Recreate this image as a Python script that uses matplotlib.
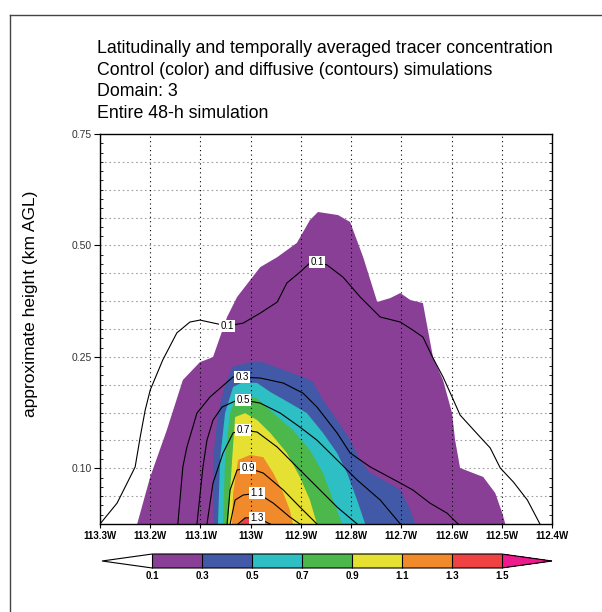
import matplotlib
matplotlib.use("Agg")
import matplotlib.pyplot as plt
import numpy as np
from matplotlib.colors import ListedColormap, BoundaryNorm
from matplotlib.cm import ScalarMappable
from matplotlib.lines import Line2D
from matplotlib.ticker import MultipleLocator

plt.rcParams['font.family'] = ['Liberation Sans', 'DejaVu Sans']

# x in degrees west, y in model-level index (0 = surface)
lon_ticks = [113.3, 113.2, 113.1, 113.0, 112.9, 112.8, 112.7, 112.6, 112.5, 112.4]
height_ticks = [2, 6, 10, 14]
height_labels = ['0.10', '0.25', '0.50', '0.75']

bounds = [0.1, 0.3, 0.5, 0.7, 0.9, 1.1, 1.3, 1.5]
colors = ['#8a3f97', '#4159a6', '#2dbfc4', '#4cb74a', '#e6e032', '#f08a2b', '#ef4242']
over_color = '#ec1a8c'

# control run (color) -- outline of each shaded band
ctl_01_lon = [113.226, 113.200, 113.167, 113.135, 113.101, 113.075, 113.047, 113.027, 112.981, 112.947,
              112.908, 112.882, 112.866, 112.826, 112.802, 112.776, 112.748, 112.722, 112.702, 112.682,
              112.657, 112.637, 112.617, 112.599, 112.593, 112.583, 112.563, 112.537, 112.513, 112.499, 112.493]
ctl_01_lev = [0, 1.69, 3.37, 5.17, 5.81, 5.99, 7.43, 8.15, 9.22, 9.58,
              10.09, 10.91, 11.20, 11.09, 10.84, 9.58, 7.97, 8.11, 8.29, 8.04,
              7.93, 5.99, 5.17, 3.98, 3.02, 2.01, 1.87, 1.69, 1.11, 0.39, 0]
ctl_03_lon = [113.075, 113.075, 113.065, 113.051, 113.037, 113.001, 112.975, 112.935, 112.896, 112.876,
              112.856, 112.828, 112.802, 112.782, 112.762, 112.736, 112.702, 112.682, 112.672]
ctl_03_lev = [0, 2.30, 3.98, 4.99, 5.64, 5.81, 5.81, 5.53, 5.28, 5.10,
              4.45, 3.73, 3.02, 2.30, 1.83, 1.58, 1.22, 0.50, 0]
ctl_05_lon = [113.065, 113.061, 113.051, 113.035, 113.015, 112.987, 112.961, 112.922, 112.888, 112.856,
              112.828, 112.808, 112.788, 112.772]
ctl_05_lev = [0, 2.30, 3.98, 4.92, 5.10, 5.06, 4.74, 4.34, 3.98, 3.27, 2.55, 1.83, 0.86, 0]
ctl_07_lon = [113.055, 113.051, 113.041, 113.031, 113.011, 112.987, 112.955, 112.916, 112.882, 112.856,
              112.836, 112.818]
ctl_07_lev = [0, 2.30, 3.98, 4.45, 4.63, 4.51, 3.98, 3.37, 2.65, 1.83, 0.86, 0]
ctl_09_lon = [113.045, 113.037, 113.031, 113.011, 112.987, 112.961, 112.928, 112.902, 112.882, 112.868]
ctl_09_lev = [0, 2.30, 3.84, 3.98, 3.73, 3.27, 2.55, 1.69, 0.86, 0]
ctl_11_lon = [113.037, 113.035, 113.025, 113.001, 112.975, 112.955, 112.935, 112.922, 112.916]
ctl_11_lev = [0, 1.11, 2.30, 2.48, 2.40, 1.83, 1.11, 0.50, 0]
ctl_13_lon = [113.021, 113.011, 113.001, 112.993]
ctl_13_lev = [0, 0.22, 0.18, 0]

# diffusive run (contours)
dif_01_lon = [113.300, 113.266, 113.236, 113.230, 113.220, 113.210, 113.200, 113.175, 113.147, 113.121,
              113.101, 113.047, 113.015, 112.981, 112.947, 112.928, 112.902, 112.882, 112.868, 112.848,
              112.816, 112.782, 112.742, 112.702, 112.677, 112.657, 112.637, 112.617, 112.599, 112.583,
              112.543, 112.523, 112.503, 112.477, 112.449, 112.424]
dif_01_lev = [0, 0.75, 1.83, 2.05, 3.12, 4.09, 4.81, 5.89, 6.86, 7.25,
              7.32, 7.11, 7.21, 7.57, 7.97, 8.65, 9.04, 9.37, 9.40, 9.30,
              8.86, 8.15, 7.43, 7.25, 6.96, 6.71, 5.96, 5.28, 4.56, 3.91,
              3.12, 2.73, 2.01, 1.51, 0.86, 0]
dif_03_lon = [113.145, 113.135, 113.127, 113.107, 113.081, 113.035, 112.981, 112.935, 112.896, 112.868,
              112.828, 112.802, 112.762, 112.702, 112.677, 112.643, 112.609, 112.587]
dif_03_lev = [0, 2.05, 2.76, 3.98, 4.56, 5.28, 5.24, 5.06, 4.70, 4.20,
              3.27, 2.55, 2.05, 1.47, 1.22, 0.75, 0.39, 0]
dif_05_lon = [113.107, 113.095, 113.087, 113.075, 113.057, 113.031, 113.015, 112.981, 112.941, 112.902,
              112.868, 112.828, 112.788, 112.742, 112.702]
dif_05_lev = [0, 2.05, 3.01, 3.73, 4.20, 4.41, 4.45, 4.34, 3.98, 3.48, 3.01, 2.30, 1.58, 0.86, 0]
dif_07_lon = [113.087, 113.075, 113.055, 113.035, 113.015, 112.987, 112.947, 112.908, 112.868, 112.828, 112.788]
dif_07_lev = [0, 1.47, 2.55, 3.27, 3.37, 3.30, 2.76, 2.05, 1.33, 0.61, 0]
dif_09_lon = [113.047, 113.041, 113.027, 113.005, 112.975, 112.935, 112.902, 112.868]
dif_09_lev = [0, 1.22, 1.94, 2.01, 1.83, 1.22, 0.61, 0]
dif_11_lon = [113.041, 113.031, 113.015, 112.987, 112.955, 112.922, 112.902]
dif_11_lev = [0, 0.86, 1.04, 1.11, 0.75, 0.25, 0]
dif_13_lon = [113.025, 113.011, 112.987, 112.961]
dif_13_lev = [0, 0.22, 0.22, 0]

ctl = [(ctl_01_lon, ctl_01_lev), (ctl_03_lon, ctl_03_lev), (ctl_05_lon, ctl_05_lev),
       (ctl_07_lon, ctl_07_lev), (ctl_09_lon, ctl_09_lev), (ctl_11_lon, ctl_11_lev),
       (ctl_13_lon, ctl_13_lev)]
dif = [(dif_01_lon, dif_01_lev, '0.1', [113.047, 112.868]),
       (dif_03_lon, dif_03_lev, '0.3', [113.017]),
       (dif_05_lon, dif_05_lev, '0.5', [113.015]),
       (dif_07_lon, dif_07_lev, '0.7', [113.015]),
       (dif_09_lon, dif_09_lev, '0.9', [113.005]),
       (dif_11_lon, dif_11_lev, '1.1', [112.987]),
       (dif_13_lon, dif_13_lev, '1.3', [112.987])]

W, H = 602, 612
fig = plt.figure(figsize=(W / 100, H / 100), dpi=100)
ax = fig.add_axes([100 / W, 1 - 524 / H, 452 / W, 390 / H])

for (lo, lv), c in zip(ctl, colors):
    ax.fill(lo, lv, color=c, lw=0, zorder=2)

for lo, lv, lab, lab_lon in dif:
    ax.plot(lo, lv, color='black', lw=0.8, zorder=3)
    for xl in lab_lon:
        yl = np.interp(xl, lo[::-1], lv[::-1])
        ax.text(xl, yl, lab, fontsize=7, ha='center', va='center', zorder=4,
                bbox=dict(boxstyle='square,pad=0.12', fc='white', ec='none'))

ax.set_xlim(113.3, 112.4)
ax.set_ylim(0, 14)

ax.set_xticks(lon_ticks)
ax.set_xticklabels([f"{v:g}W" for v in lon_ticks], fontsize=7, fontweight='bold')
ax.set_yticks(height_ticks)
ax.set_yticklabels(height_labels, fontsize=7.5, color='#333333')
ax.yaxis.set_minor_locator(MultipleLocator(1 / 3))
ax.tick_params(axis='x', which='major', direction='out', length=3, width=0.8, pad=2)
ax.tick_params(axis='y', which='major', direction='out', length=4, width=0.8, pad=2)
ax.tick_params(axis='y', which='minor', left=True, right=True, direction='in', length=2.5, width=0.6)

ax.grid(axis='x', which='major', color='black', linestyle=(0, (1, 3)), lw=0.8, zorder=5)
for lv in range(1, 14):
    ax.axhline(lv, color='#a0a0a0', linestyle=(0, (1.5, 2.5)), lw=0.8, zorder=1)
ax.set_axisbelow(False)
for s in ax.spines.values():
    s.set_linewidth(1.0)
    s.set_zorder(6)

ax.set_ylabel('approximate height (km AGL)', fontsize=12.5)
ax.yaxis.set_label_coords(-0.138, 0.564)

fig.text(97 / W, 1 - 40 / H,
         'Latitudinally and temporally averaged tracer concentration\n'
         'Control (color) and diffusive (contours) simulations\n'
         'Domain: 3\n'
         'Entire 48-h simulation',
         fontsize=12.8, ha='left', va='top', linespacing=1.35)

# colorbar
cmap = ListedColormap(colors)
cmap.set_under('white')
cmap.set_over(over_color)
norm = BoundaryNorm(bounds, cmap.N)
cax = fig.add_axes([102 / W, 1 - 568 / H, 450 / W, 14 / H])
cb = fig.colorbar(ScalarMappable(norm=norm, cmap=cmap), cax=cax, orientation='horizontal',
                  extend='both', extendfrac=0.144, drawedges=True, ticks=bounds)
cb.outline.set_linewidth(0.8)
cb.dividers.set_linewidth(0.8)
cb.ax.tick_params(length=0, pad=2)
cb.ax.set_xticklabels([f"{b:g}" for b in bounds], fontsize=7, fontweight='bold')

# page frame (top and left edges)
fig.add_artist(Line2D([10 / W, 1], [1 - 15 / H, 1 - 15 / H], color='#444444', lw=1))
fig.add_artist(Line2D([10 / W, 10 / W], [0, 1 - 15 / H], color='#444444', lw=1))

fig.savefig('out.png', dpi=100)
